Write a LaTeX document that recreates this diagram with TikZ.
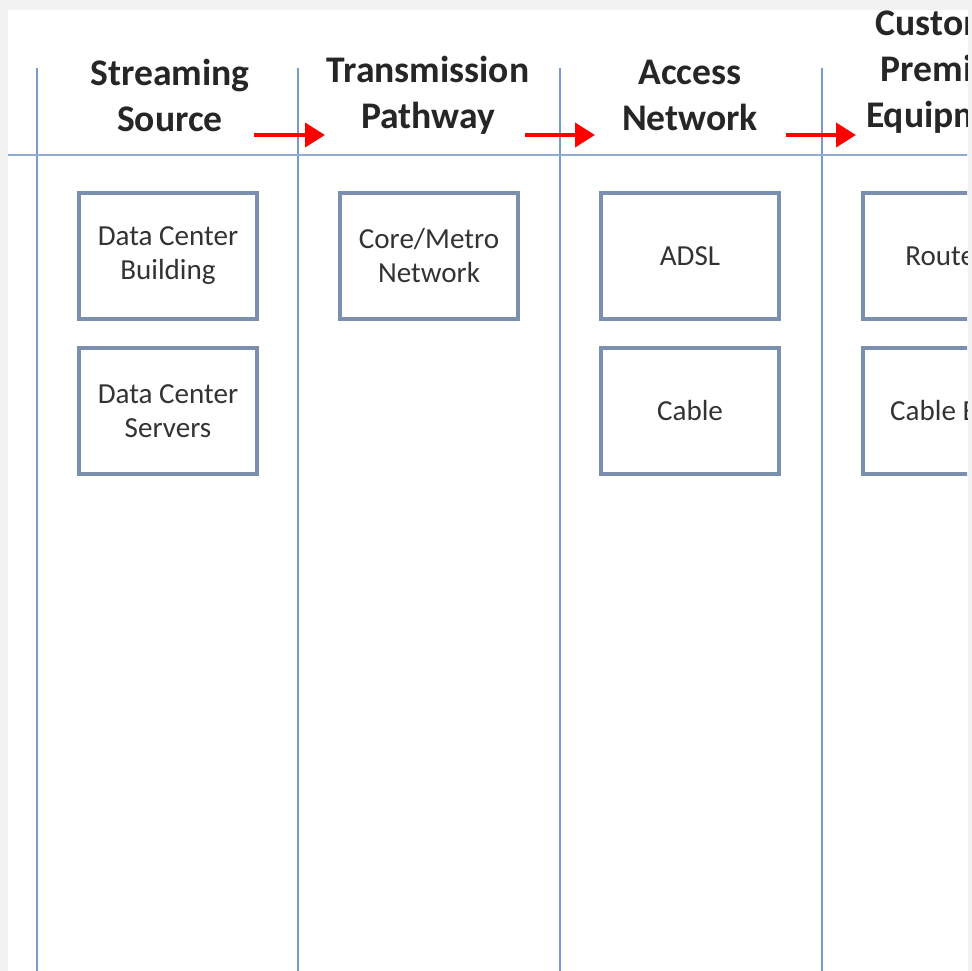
\documentclass[tikz,border=0pt]{standalone}
\usepackage{fontspec}
\setmainfont{Carlito}
\usetikzlibrary{arrows.meta}

\definecolor{rule}{HTML}{7A9CC8}
\definecolor{boxline}{HTML}{7B8FAE}
\definecolor{frame}{HTML}{F2F2F2}

\tikzset{
  head/.style={font=\bfseries\fontsize{28.2}{34.5}\selectfont, align=center, text=black!85},
  item/.style={draw=boxline, line width=3pt, minimum width=133.5pt, minimum height=94pt,
    font=\fontsize{21.8}{25.5}\selectfont, align=center, text=black!80},
  flow/.style={red, line width=3pt, -{Triangle[length=15pt, width=18pt]}}
}

\begin{document}
\begin{tikzpicture}[x=0.75pt, y=-0.75pt]

\fill[frame] (0,0) rectangle (972,971);
\fill[white] (8,10) rectangle (968,971);
\useasboundingbox (0,0) rectangle (972,971);
\clip (8,10) rectangle (967,971);

% lanes
\foreach \x in {37,298,560,822}
  \draw[rule, line width=1.1pt] (\x,68) -- (\x,971);
\draw[rule!85, line width=2pt] (8,155) -- (968,155);

% headings
\node[head] (src) at (170,95) {Streaming\\Source};
\node[head] (path) at (428,95) {Transmission\\Pathway};
\node[head] (acc) at (690,95) {Access\\Network};
\node[head] (cpe) at (951,72) {Customer\\Premises\\Equipment};

% arrows between headings
\coordinate (a1) at (254,135); \coordinate (b1) at (325,135);
\coordinate (a2) at (525,135); \coordinate (b2) at (595,135);
\coordinate (a3) at (786,135); \coordinate (b3) at (856,135);
\draw[flow] (a1) -- (b1);
\draw[flow] (a2) -- (b2);
\draw[flow] (a3) -- (b3);

% boxes
\node[item] (dcb) at (168,256) {Data Center\\Building};
\node[item] (dcs) at (168,411) {Data Center\\Servers};
\node[item] (core) at (429,256) {Core/Metro\\Network};
\node[item] (adsl) at (690,256) {ADSL};
\node[item] (cable) at (690,411) {Cable};
\node[item] (router) at (952,256) {\hspace*{-10pt}Router};
\node[item] (box) at (952,411) {\hspace*{-6pt}Cable Box};

\end{tikzpicture}
\end{document}
